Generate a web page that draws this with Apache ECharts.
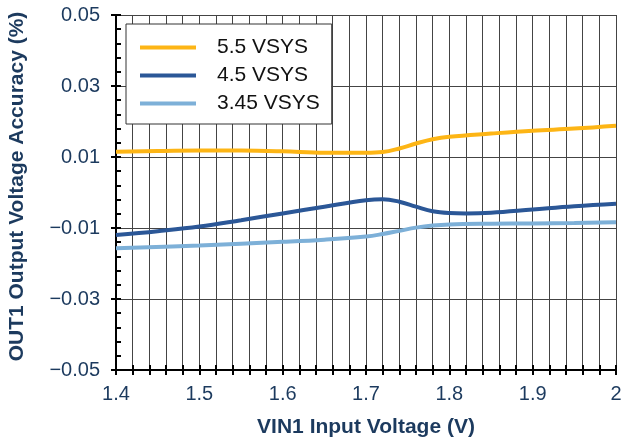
<!DOCTYPE html>
<html>
<head>
<meta charset="utf-8">
<script src="https://cdn.jsdelivr.net/npm/echarts@6/dist/echarts.min.js"></script>
<style>html,body{margin:0;padding:0;background:#fff;}#c{width:626px;height:440px;}</style>
</head>
<body>
<div id="c"></div>
<script>
const seriesNames = ['5.5 VSYS', '4.5 VSYS', '3.45 VSYS'];
const x55 = [1.40, 1.45, 1.50, 1.55, 1.60, 1.65, 1.70, 1.72, 1.74, 1.76, 1.78, 1.80, 1.85, 1.90, 1.95, 2.00];
const y55 = [0.0115, 0.0117, 0.0118, 0.0118, 0.0116, 0.0112, 0.0112, 0.0114, 0.0124, 0.0138, 0.0150, 0.0157, 0.0166, 0.0174, 0.0180, 0.0188];
const x45 = [1.40, 1.45, 1.50, 1.55, 1.60, 1.65, 1.70, 1.72, 1.74, 1.76, 1.78, 1.80, 1.82, 1.85, 1.90, 1.95, 2.00];
const y45 = [-0.0120, -0.0109, -0.0096, -0.0078, -0.0059, -0.0040, -0.0022, -0.0019, -0.0026, -0.0040, -0.0053, -0.0058, -0.0059, -0.0057, -0.0048, -0.0039, -0.0032];
const x345 = [1.40, 1.50, 1.60, 1.65, 1.70, 1.72, 1.74, 1.76, 1.78, 1.80, 1.85, 1.90, 1.95, 2.00];
const y345 = [-0.0157, -0.0149, -0.0139, -0.0133, -0.0124, -0.0117, -0.0108, -0.0099, -0.0093, -0.0090, -0.0088, -0.0087, -0.0086, -0.0084];
const colors = ['#FDB515', '#2B5797', '#7DB0D8'];

const zip = (xs, ys) => xs.map((x, i) => [x, ys[i]]);
const navy = '#1c3a5e';
const gridCol = '#444';
const fontFam = '"Liberation Sans", Arial, Helvetica, sans-serif';

const chart = echarts.init(document.getElementById('c'));
const xBase = {type: 'value', min: 1.4, max: 2.0, interval: 0.1, position: 'bottom'};
const yBase = {type: 'value', min: -0.05, max: 0.05, interval: 0.02, position: 'left'};
chart.setOption({
  animation: false,
  backgroundColor: '#fff',
  grid: {left: 116, right: 10, top: 15, bottom: 70, containLabel: false, outerBoundsMode: 'none'},
  legend: {
    data: seriesNames,
    orient: 'vertical',
    left: 126, top: 24,
    width: 206,
    padding: [13, 12, 10, 14],
    itemGap: 7,
    itemWidth: 56, itemHeight: 4,
    icon: 'rect',
    borderColor: '#333', borderWidth: 1,
    backgroundColor: '#fff',
    textStyle: {fontSize: 21, color: '#111', fontFamily: fontFam, padding: [0, 0, 0, 16]}
  },
  xAxis: [
    Object.assign({}, xBase, {
      name: 'VIN1 Input Voltage (V)',
      nameLocation: 'middle', nameGap: 47,
      nameTextStyle: {fontSize: 21, fontWeight: 'bold', color: navy, fontFamily: fontFam},
      axisLine: {show: true, onZero: false, lineStyle: {color: '#000', width: 2}},
      axisTick: {show: true, inside: false, length: 5, lineStyle: {color: '#000', width: 2}},
      minorTick: {show: true, splitNumber: 5, length: 5, lineStyle: {color: '#000', width: 2}},
      axisLabel: {fontSize: 20, color: navy, margin: 14, fontFamily: fontFam,
        formatter: v => String(Math.round(v * 10) / 10)},
      splitLine: {show: true, lineStyle: {color: gridCol, width: 1}},
      minorSplitLine: {show: true, lineStyle: {color: gridCol, width: 1}}
    }),
    Object.assign({}, xBase, {
      axisLine: {show: false, onZero: false},
      axisTick: {show: true, inside: true, length: 5, lineStyle: {color: '#000', width: 2}},
      minorTick: {show: true, splitNumber: 5, length: 5, lineStyle: {color: '#000', width: 2}},
      axisLabel: {show: false},
      splitLine: {show: false}
    })
  ],
  yAxis: [
    Object.assign({}, yBase, {
      name: 'OUT1 Output Voltage Accuracy (%)',
      nameLocation: 'middle', nameGap: 88,
      nameTextStyle: {fontSize: 21, fontWeight: 'bold', color: navy, fontFamily: fontFam, padding: [0, 0, 0, 12]},
      axisLine: {show: true, onZero: false, lineStyle: {color: '#000', width: 2}},
      axisTick: {show: true, inside: false, length: 5, lineStyle: {color: '#000', width: 2}},
      axisLabel: {fontSize: 20, color: navy, margin: 16, fontFamily: fontFam,
        formatter: v => (v < -1e-9 ? '\u2212' : '') + Math.abs(v).toFixed(2)},
      splitLine: {show: true, lineStyle: {color: gridCol, width: 1}}
    }),
    Object.assign({}, yBase, {
      axisLine: {show: false, onZero: false},
      axisTick: {show: true, inside: true, length: 5, lineStyle: {color: '#000', width: 2}},
      minorTick: {show: true, splitNumber: 5, length: 5, lineStyle: {color: '#000', width: 2}},
      axisLabel: {show: false},
      splitLine: {show: false}
    })
  ],
  series: [
    {name: seriesNames[0], type: 'line', data: zip(x55, y55)},
    {name: seriesNames[1], type: 'line', data: zip(x45, y45)},
    {name: seriesNames[2], type: 'line', data: zip(x345, y345)}
  ].map((s, i) => Object.assign(s, {
    smooth: 0.4, showSymbol: false, symbol: 'none', z: 3 - i + 2,
    color: colors[i],
    lineStyle: {color: colors[i], width: 4}
  }))
});
</script>
</body>
</html>
